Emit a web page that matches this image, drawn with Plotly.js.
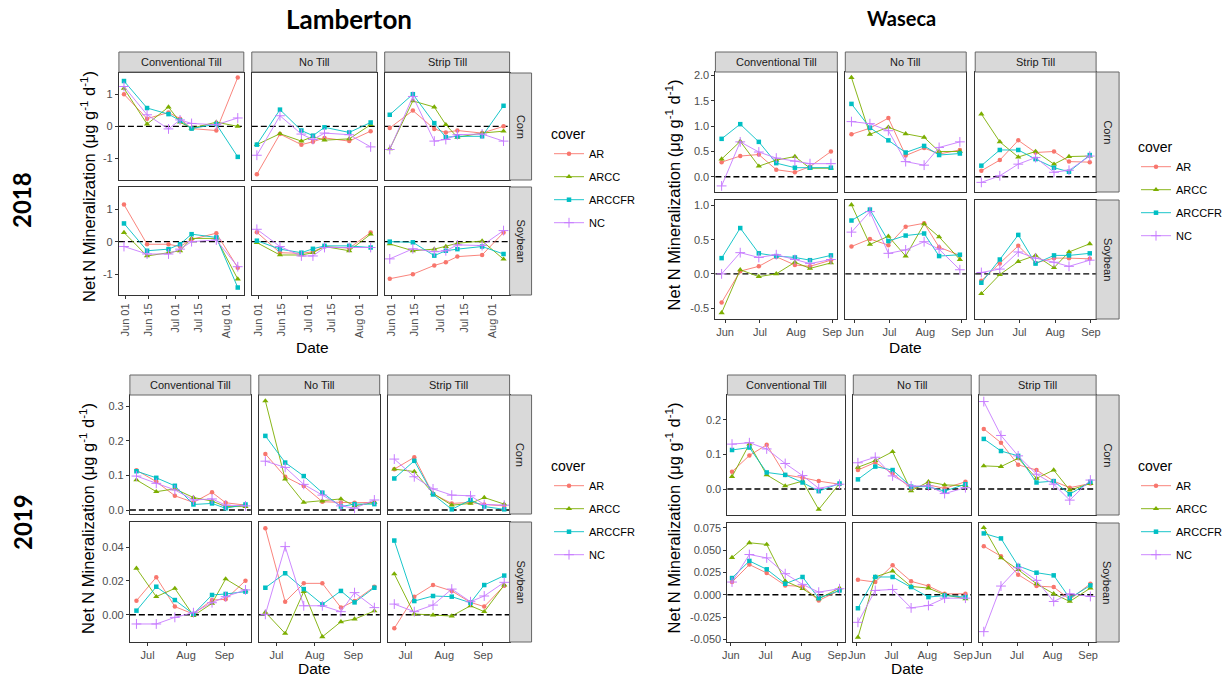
<!DOCTYPE html>
<html><head><meta charset="utf-8">
<script src="https://cdn.plot.ly/plotly-3.0.1.min.js"></script>
<style>html,body{margin:0;padding:0;background:#fff}#chart{width:1227px;height:676px}</style>
</head><body><div id="chart"></div>
<script>
// ---------------- DATA ----------------
const covers = ['AR','ARCC','ARCCFR','NC'];
const tillages = ['Conventional Till','No Till','Strip Till'];
const crops = ['Corn','Soybean'];

const L18_dates = ['2018-05-31','2018-06-14','2018-06-27','2018-07-04','2018-07-11','2018-07-26','2018-08-08'];
const W18_dates = ['2018-05-29','2018-06-14','2018-06-30','2018-07-15','2018-07-31','2018-08-13','2018-08-31'];
const L19_dates = ['2019-06-22','2019-07-08','2019-07-23','2019-08-07','2019-08-22','2019-09-02','2019-09-18'];
const W19_dates = ['2019-06-02','2019-06-17','2019-07-02','2019-07-18','2019-08-02','2019-08-16','2019-09-03'];

// Lamberton 2018
const L18_CT_corn = {AR:[1.0,0.24,0.43,0.24,-0.07,-0.13,1.52], ARCC:[1.18,0.07,0.6,0.13,-0.06,0.13,0.0], ARCCFR:[1.41,0.57,0.38,0.18,-0.07,0.07,-0.95], NC:[1.24,0.36,-0.08,0.2,0.09,0.05,0.26]};
const L18_NT_corn = {AR:[-1.49,-0.24,-0.57,-0.48,-0.36,-0.46,-0.15], ARCC:[-0.57,-0.23,-0.46,-0.32,-0.43,-0.39,0.05], ARCCFR:[-0.57,0.52,-0.13,-0.29,-0.03,-0.19,0.12], NC:[-0.9,0.33,-0.24,-0.41,-0.21,-0.26,-0.64]};
const L18_ST_corn = {AR:[-0.05,0.49,-0.08,-0.19,-0.13,-0.21,0.0], ARCC:[-0.7,0.79,0.6,0.05,-0.34,-0.21,-0.15], ARCCFR:[0.36,1.0,0.1,-0.34,-0.31,-0.31,0.64], NC:[-0.72,0.93,-0.46,-0.41,-0.26,-0.24,-0.46]};
const L18_CT_soy = {AR:[1.14,-0.08,-0.08,-0.15,0.07,0.26,-0.8], ARCC:[0.28,-0.44,-0.34,-0.28,0.1,0.1,-1.15], ARCCFR:[0.56,-0.28,-0.23,-0.08,0.23,0.13,-1.41], NC:[-0.15,-0.38,-0.38,-0.23,0.0,0.05,-0.77]};
const L18_NT_soy = {AR:[0.29,-0.34,-0.36,-0.31,-0.15,-0.2,0.28], ARCC:[-0.03,-0.41,-0.41,-0.34,-0.15,-0.28,0.23], ARCCFR:[0.03,-0.23,-0.34,-0.22,-0.13,-0.13,-0.18], NC:[0.38,-0.15,-0.44,-0.44,-0.18,-0.18,-0.18]};
const L18_ST_soy = {AR:[-1.14,-1.0,-0.73,-0.63,-0.46,-0.41,0.28], ARCC:[-0.07,-0.28,-0.23,-0.15,-0.05,0.02,-0.54], ARCCFR:[0.0,-0.02,-0.43,-0.28,-0.23,-0.15,-0.38], NC:[-0.53,-0.22,-0.31,-0.28,-0.1,-0.12,0.34]};

// Waseca 2018
const W18_CT_corn = {AR:[0.29,0.41,0.44,0.14,0.09,0.2,0.5], ARCC:[0.35,0.7,0.21,0.33,0.4,0.17,0.17], ARCCFR:[0.75,1.04,0.69,0.27,0.18,0.18,0.18], NC:[-0.18,0.69,0.49,0.37,0.31,0.26,0.26]};
const W18_NT_corn = {AR:[0.84,0.96,1.16,0.42,0.57,0.45,0.53], ARCC:[1.96,0.84,0.98,0.85,0.78,0.5,0.5], ARCCFR:[1.44,0.97,0.72,0.48,0.61,0.43,0.46], NC:[1.09,1.05,0.91,0.3,0.23,0.58,0.69]};
const W18_ST_corn = {AR:[0.12,0.33,0.72,0.48,0.5,0.3,0.29], ARCC:[1.24,0.69,0.39,0.5,0.25,0.4,0.41], ARCCFR:[0.22,0.53,0.53,0.35,0.18,0.1,0.43], NC:[-0.11,0.02,0.25,0.38,0.09,0.13,0.41]};
const W18_CT_soy = {AR:[-0.42,0.04,0.11,0.25,0.13,0.11,0.2], ARCC:[-0.57,0.06,-0.04,0.0,0.17,0.08,0.16], ARCCFR:[0.23,0.67,0.3,0.26,0.24,0.2,0.27], NC:[0.0,0.31,0.24,0.28,0.21,0.15,0.21]};
const W18_NT_soy = {AR:[0.4,0.51,0.42,0.69,0.74,0.39,0.27], ARCC:[1.01,0.43,0.55,0.26,0.73,0.54,0.21], ARCCFR:[0.78,0.94,0.48,0.56,0.59,0.26,0.28], NC:[0.61,0.91,0.3,0.35,0.47,0.36,0.06]};
const W18_ST_soy = {AR:[-0.1,0.15,0.41,0.16,0.23,0.23,0.22], ARCC:[-0.29,-0.01,0.18,0.27,0.09,0.32,0.44], ARCCFR:[-0.13,0.21,0.57,0.15,0.27,0.27,0.3], NC:[0.02,0.07,0.32,0.23,0.17,0.11,0.2]};

// Lamberton 2019
const L19_CT_corn = {AR:[0.115,0.082,0.041,0.022,0.051,0.021,0.014], ARCC:[0.087,0.053,0.061,0.036,0.026,0.01,0.01], ARCCFR:[0.112,0.093,0.07,0.016,0.019,0.005,0.016], NC:[0.098,0.077,0.058,0.029,0.032,0.014,0.012]};
const L19_NT_corn = {AR:[0.162,0.096,0.069,0.024,0.022,0.021,0.022], ARCC:[0.315,0.089,0.022,0.026,0.032,0.012,0.022], ARCCFR:[0.214,0.137,0.098,0.05,0.01,0.017,0.017], NC:[0.141,0.123,0.074,0.043,0.012,0.005,0.029]};
const L19_ST_corn = {AR:[0.118,0.152,0.046,0.019,0.022,0.016,0.012], ARCC:[0.118,0.111,0.048,0.014,0.019,0.036,0.017], ARCCFR:[0.091,0.142,0.045,0.002,0.029,0.01,0.002], NC:[0.147,0.096,0.061,0.043,0.041,0.016,0.014]};
const L19_CT_soy = {AR:[0.0083,0.0222,0.0048,0.0004,0.0087,0.0091,0.0202], ARCC:[0.0275,0.0107,0.0156,-0.0006,0.0067,0.0212,0.0141], ARCCFR:[0.0024,0.0166,0.0087,0.0004,0.0117,0.0123,0.0137], NC:[-0.0055,-0.0055,-0.0016,0.0012,0.0071,0.0107,0.0147]};
const L19_NT_soy = {AR:[0.0513,0.0077,0.0186,0.0186,0.0042,0.0081,0.0166], ARCC:[0.0014,-0.0111,0.0137,-0.0131,-0.0042,-0.0026,0.0022], ARCCFR:[0.016,0.0246,0.0152,0.0061,0.0141,0.0073,0.016], NC:[0.0002,0.0404,0.0053,0.0053,0.0018,0.0131,0.0042]};
const L19_ST_soy = {AR:[-0.0081,0.0107,0.0176,0.0141,0.0073,0.0048,0.0172], ARCC:[0.0242,0.0004,-0.0002,-0.0008,0.0053,0.0018,0.0176], ARCCFR:[0.044,0.0081,0.0111,0.0107,0.0071,0.0176,0.0232], NC:[0.0063,0.0018,0.0057,0.0152,0.0077,0.0111,0.0192]};

// Waseca 2019
const W19_CT_corn = {AR:[0.05,0.097,0.128,0.041,0.033,0.023,0.014], ARCC:[0.036,0.13,0.041,0.009,0.023,-0.059,0.016], ARCCFR:[0.113,0.12,0.048,0.041,0.019,-0.006,0.016], NC:[0.13,0.134,0.116,0.074,0.039,0.002,0.014]};
const W19_NT_corn = {AR:[0.055,0.077,0.045,0.002,0.012,0.002,0.021], ARCC:[0.063,0.082,0.108,-0.005,0.021,0.012,0.01], ARCCFR:[0.028,0.065,0.055,0.007,0.007,-0.006,0.014], NC:[0.076,0.092,0.038,0.009,0.009,-0.013,0.004]};
const W19_ST_corn = {AR:[0.174,0.134,0.07,0.055,0.023,0.004,0.016], ARCC:[0.067,0.065,0.089,0.031,0.055,-0.003,0.016], ARCCFR:[0.145,0.11,0.096,0.019,0.023,-0.015,0.021], NC:[0.253,0.155,0.096,0.043,0.014,-0.032,0.026]};
const W19_CT_soy = {AR:[0.0143,0.0339,0.0245,0.0105,0.0094,-0.0064,0.0049], ARCC:[0.0418,0.0584,0.0565,0.0154,0.0068,-0.0045,0.0075], ARCCFR:[0.0188,0.038,0.0286,0.0124,0.02,-0.0038,0.0049], NC:[0.0143,0.0452,0.0414,0.0237,0.0117,0.003,0.0068]};
const W19_NT_soy = {AR:[0.0169,0.0143,0.0331,0.0151,0.0098,0.0011,0.0011], ARCC:[-0.0478,0.02,0.0267,0.0094,0.0075,0.0,-0.0045], ARCCFR:[-0.0151,0.02,0.02,0.0087,-0.0026,-0.0008,-0.0026], NC:[-0.0309,0.0049,0.006,-0.0147,-0.012,-0.0038,-0.0038]};
const W19_ST_soy = {AR:[0.0546,0.0433,0.0226,0.0098,0.0087,-0.0053,0.0124], ARCC:[0.0753,0.0414,0.0282,0.0124,0.0011,-0.0075,0.0075], ARCCFR:[0.0689,0.0633,0.0324,0.0248,0.0218,-0.0038,0.0105], NC:[-0.0414,0.0098,0.0305,0.0162,-0.0075,0.0011,-0.0019]};

// tick labels
const L18_xticks = ['2018-06-01','2018-06-15','2018-07-01','2018-07-15','2018-08-01'];
const L18_xlabels = ['Jun 01','Jun 15','Jul 01','Jul 15','Aug 01'];
const W18_xticks = ['2018-06-01','2018-07-01','2018-08-01','2018-09-01'];
const L19_xticks = ['2019-07-01','2019-08-01','2019-09-01'];
const W19_xticks = ['2019-06-01','2019-07-01','2019-08-01','2019-09-01'];
const L18_yticks = [[-1,0,1],[-1,0,1]];
const L18_ylabels = [['-1','0','1'],['-1','0','1']];
const W18_yticks = [[0,0.5,1,1.5,2],[-0.5,0,0.5,1]];
const W18_ylabels = [['0.0','0.5','1.0','1.5','2.0'],['-0.5','0.0','0.5','1.0']];
const L19_yticks = [[0,0.1,0.2,0.3],[0,0.02,0.04]];
const L19_ylabels = [['0.0','0.1','0.2','0.3'],['0.00','0.02','0.04']];
const W19_yticks = [[0,0.1,0.2],[-0.05,-0.025,0,0.025,0.05,0.075]];
const W19_ylabels = [['0.0','0.1','0.2'],['-0.050','-0.025','0.000','0.025','0.050','0.075']];

// ---------------- STYLE / LAYOUT ----------------
const W = 1227, H = 676;
const FONT = '"Liberation Sans", Arial, sans-serif';
const coverColor = {AR:'#F8766D', ARCC:'#7CAE00', ARCCFR:'#00BFC4', NC:'#C77CFF'};
const coverSymbol = {AR:'circle', ARCC:'triangle-up', ARCCFR:'square', NC:'cross-thin'};
const coverSize = {AR:4.5, ARCC:5.5, ARCCFR:4.5, NC:7};

const PANELS = [
  {key:'L18', dates:L18_dates, facets:[[L18_CT_corn,L18_NT_corn,L18_ST_corn],[L18_CT_soy,L18_NT_soy,L18_ST_soy]],
   cols:[[119,244],[252,377],[385,510]], strip:[510,532], head:[52,72], rows:[[73,180],[187,295]],
   yr:[[-1.67,1.66],[-1.64,1.68]], yt:L18_yticks, yl:L18_ylabels,
   xr:['2018-05-27 22:00','2018-08-11 16:00'], xt:L18_xticks, xl:L18_xlabels, xangle:-90,
   legend:'legend', leg:[549,121], ytitle:[88,186], xtitle:[313,347]},
  {key:'W18', dates:W18_dates, facets:[[W18_CT_corn,W18_NT_corn,W18_ST_corn],[W18_CT_soy,W18_NT_soy,W18_ST_soy]],
   cols:[[716,838],[846,967],[976,1097]], strip:[1097,1120], head:[52,72], rows:[[72,192],[200,319]],
   yr:[[-0.3,2.07],[-0.66,1.08]], yt:W18_yticks, yl:W18_ylabels,
   xr:['2018-05-23 16:00','2018-09-05 12:00'], xt:W18_xticks, xl:['Jun','Jul','Aug','Sep'], xangle:0,
   legend:'legend2', leg:[1137,134], ytitle:[674,195], xtitle:[906,347]},
  {key:'L19', dates:L19_dates, facets:[[L19_CT_corn,L19_NT_corn,L19_ST_corn],[L19_CT_soy,L19_NT_soy,L19_ST_soy]],
   cols:[[130,251],[259,380],[388,510]], strip:[510,532], head:[375,395], rows:[[395,514],[522,642]],
   yr:[[-0.0115,0.332],[-0.0162,0.055]], yt:L19_yticks, yl:L19_ylabels,
   xr:['2019-06-16 17:00','2019-09-22 07:00'], xt:L19_xticks, xl:['Jul','Aug','Sep'], xangle:0,
   legend:'legend3', leg:[549,453], ytitle:[87,518], xtitle:[315,668]},
  {key:'W19', dates:W19_dates, facets:[[W19_CT_corn,W19_NT_corn,W19_ST_corn],[W19_CT_soy,W19_NT_soy,W19_ST_soy]],
   cols:[[728,846],[854,972],[980,1097]], strip:[1097,1120], head:[375,395], rows:[[395,515],[523,642]],
   yr:[[-0.075,0.272],[-0.053,0.0806]], yt:W19_yticks, yl:W19_ylabels,
   xr:['2019-05-29 00:00','2019-09-08 00:00'], xt:W19_xticks, xl:['Jun','Jul','Aug','Sep'], xangle:0,
   legend:'legend4', leg:[1137,453], ytitle:[674,518], xtitle:[908,668]}
];

const traces = [];
const shapes = [];
const annotations = [];
const layout = {
  width:W, height:H, margin:{l:0,r:0,t:0,b:0},
  paper_bgcolor:'#ffffff', plot_bgcolor:'#ffffff',
  font:{family:FONT, size:12, color:'#000'},
  hovermode:false
};
const px = v => v / W;
const py = v => 1 - v / H;

let k = 0;
PANELS.forEach((P) => {
  crops.forEach((crop, ri) => {
    tillages.forEach((till, ci) => {
      k++;
      const xa = k === 1 ? 'x' : 'x' + k;
      const ya = k === 1 ? 'y' : 'y' + k;
      const [x0, x1] = P.cols[ci];
      const [y0, y1] = P.rows[ri];
      const bottom = ri === 1, left = ci === 0;
      layout[k === 1 ? 'xaxis' : 'xaxis' + k] = {
        domain:[px(x0), px(x1)], anchor:ya, type:'date', range:P.xr,
        showline:true, mirror:true, linecolor:'#333333', linewidth:1,
        showgrid:false, zeroline:false, fixedrange:true,
        ticks: bottom ? 'outside' : '', ticklen:3, tickcolor:'#333333', tickwidth:1,
        showticklabels: bottom, tickmode:'array', tickvals:P.xt, ticktext:P.xl,
        tickangle:P.xangle, tickfont:{size:11, color:'#4D4D4D', family:FONT}
      };
      layout[k === 1 ? 'yaxis' : 'yaxis' + k] = {
        domain:[py(y1), py(y0)], anchor:xa, range:P.yr[ri],
        showline:true, mirror:true, linecolor:'#333333', linewidth:1,
        showgrid:false, zeroline:false, fixedrange:true,
        ticks: left ? 'outside' : '', ticklen:3, tickcolor:'#333333', tickwidth:1,
        showticklabels: left, tickmode:'array', tickvals:P.yt[ri], ticktext:P.yl[ri],
        tickfont:{size:11, color:'#4D4D4D', family:FONT}
      };
      shapes.push({type:'line', xref:xa + ' domain', x0:0, x1:1, yref:ya, y0:0, y1:0,
        line:{color:'#000', width:1.4, dash:'6px,3px'}, layer:'below'});
      const facet = P.facets[ri][ci];
      covers.forEach((cv) => {
        traces.push({
          type:'scatter', mode:'lines+markers', x:P.dates, y:facet[cv],
          xaxis:xa, yaxis:ya, name:cv, legend:P.legend, legendgroup:P.key + cv,
          showlegend: ri === 0 && ci === 0, cliponaxis:false,
          line:{color:coverColor[cv], width:0.9},
          marker:{symbol:coverSymbol[cv], size:coverSize[cv], color:coverColor[cv],
                  line:{color:coverColor[cv], width: cv === 'NC' ? 1 : 0}}
        });
      });
      if (ri === 0) {
        shapes.push({type:'rect', xref:'paper', yref:'paper', x0:px(x0), x1:px(x1), y0:py(P.head[1]), y1:py(P.head[0]),
          fillcolor:'#D9D9D9', line:{color:'#666', width:1}});
        annotations.push({xref:'paper', yref:'paper', x:px((x0 + x1) / 2), y:py((P.head[0] + P.head[1]) / 2),
          text:till, showarrow:false, xanchor:'center', yanchor:'middle', font:{size:11, color:'#1A1A1A'}});
      }
    });
    const [y0, y1] = P.rows[ri];
    shapes.push({type:'rect', xref:'paper', yref:'paper', x0:px(P.strip[0]), x1:px(P.strip[1]), y0:py(y1), y1:py(y0),
      fillcolor:'#D9D9D9', line:{color:'#666', width:1}});
    annotations.push({xref:'paper', yref:'paper', x:px((P.strip[0] + P.strip[1]) / 2), y:py((y0 + y1) / 2),
      text:crop, showarrow:false, textangle:90, xanchor:'center', yanchor:'middle', font:{size:11, color:'#1A1A1A'}});
  });
  layout[P.legend] = {x:px(P.leg[0]), y:py(P.leg[1]), xanchor:'left', yanchor:'top',
    title:{text:'cover', font:{size:14, color:'#000'}}, font:{size:11, color:'#000'},
    tracegroupgap:4, bgcolor:'rgba(0,0,0,0)', borderwidth:0};
  annotations.push({xref:'paper', yref:'paper', x:px(P.ytitle[0]), y:py(P.ytitle[1]), textangle:-90,
    text:'Net N Mineralization (μg g<sup>-1</sup> d<sup>-1</sup>)', showarrow:false, xanchor:'center', yanchor:'middle',
    font:{size:16.5, color:'#000'}});
  annotations.push({xref:'paper', yref:'paper', x:px(P.xtitle[0]), y:py(P.xtitle[1]),
    text:'Date', showarrow:false, xanchor:'center', yanchor:'middle', font:{size:15.5, color:'#000'}});
});

// Big titles
const TITLE_FONT = 'Lato, "Open Sans", sans-serif';
annotations.push({xref:'paper', yref:'paper', x:px(349), y:py(19), text:'<b>Lamberton</b>', showarrow:false,
  xanchor:'center', yanchor:'middle', font:{size:26, family:TITLE_FONT, color:'#000'}});
annotations.push({xref:'paper', yref:'paper', x:px(902), y:py(18), text:'<b>Waseca</b>', showarrow:false,
  xanchor:'center', yanchor:'middle', font:{size:20, family:TITLE_FONT, color:'#000'}});
annotations.push({xref:'paper', yref:'paper', x:px(22), y:py(200), text:'<b>2018</b>', showarrow:false, textangle:-90,
  xanchor:'center', yanchor:'middle', font:{size:24, family:TITLE_FONT, color:'#000'}});
annotations.push({xref:'paper', yref:'paper', x:px(22), y:py(522), text:'<b>2019</b>', showarrow:false, textangle:-90,
  xanchor:'center', yanchor:'middle', font:{size:24, family:TITLE_FONT, color:'#000'}});

layout.shapes = shapes;
layout.annotations = annotations;
Plotly.newPlot('chart', traces, layout, {staticPlot:true, displayModeBar:false});
</script>
</body></html>
